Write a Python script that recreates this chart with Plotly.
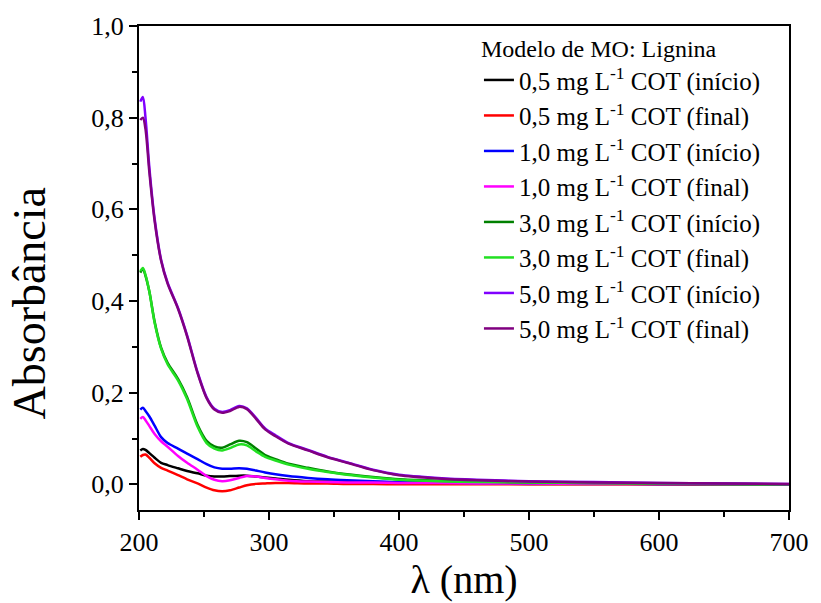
import plotly.graph_objects as go

# Wavelength grid (nm)
wl = [201, 203, 205, 208, 212, 217, 222, 230, 237, 245, 252, 258, 264, 270, 277,
      283, 290, 297, 305, 315, 330, 345, 360, 380, 400, 430, 460, 500, 550, 600, 650, 700]

# Absorbance spectra
a05_ini = [0.074, 0.077, 0.075, 0.068, 0.058, 0.047, 0.042, 0.035, 0.029, 0.024, 0.019, 0.017,
           0.017, 0.018, 0.019, 0.019, 0.017, 0.015, 0.013, 0.010, 0.007, 0.006, 0.005, 0.004,
           0.003, 0.002, 0.002, 0.001, 0.001, 0.000, 0.000, 0.000]
a05_fin = [0.060, 0.064, 0.065, 0.058, 0.046, 0.036, 0.030, 0.020, 0.011, 0.002, -0.007, -0.013,
           -0.015, -0.013, -0.007, -0.002, 0.001, 0.002, 0.003, 0.003, 0.002, 0.002, 0.001, 0.001,
           0.000, 0.000, 0.000, 0.000, 0.000, 0.000, 0.000, 0.000]
a10_ini = [0.163, 0.167, 0.160, 0.148, 0.128, 0.103, 0.090, 0.078, 0.067, 0.055, 0.044, 0.037,
           0.034, 0.034, 0.035, 0.034, 0.030, 0.026, 0.022, 0.018, 0.014, 0.011, 0.009, 0.007,
           0.005, 0.004, 0.003, 0.002, 0.002, 0.001, 0.001, 0.000]
a10_fin = [0.143, 0.147, 0.140, 0.127, 0.110, 0.094, 0.082, 0.062, 0.047, 0.032, 0.018, 0.010,
           0.007, 0.009, 0.014, 0.018, 0.017, 0.014, 0.011, 0.008, 0.006, 0.005, 0.004, 0.004,
           0.003, 0.003, 0.002, 0.002, 0.001, 0.001, 0.001, 0.000]
a30_ini = [0.462, 0.470, 0.455, 0.420, 0.355, 0.298, 0.265, 0.230, 0.190, 0.130, 0.095, 0.083,
           0.080, 0.087, 0.095, 0.092, 0.078, 0.064, 0.055, 0.045, 0.036, 0.028, 0.022, 0.016,
           0.011, 0.008, 0.006, 0.004, 0.003, 0.002, 0.001, 0.000]
a30_fin = [0.465, 0.472, 0.457, 0.420, 0.353, 0.296, 0.262, 0.227, 0.186, 0.126, 0.090, 0.078,
           0.074, 0.079, 0.087, 0.085, 0.072, 0.060, 0.052, 0.043, 0.034, 0.027, 0.021, 0.015,
           0.010, 0.007, 0.005, 0.004, 0.003, 0.002, 0.001, 0.000]
a50_ini = [0.835, 0.845, 0.800, 0.690, 0.580, 0.490, 0.440, 0.385, 0.325, 0.245, 0.190, 0.165,
           0.158, 0.162, 0.171, 0.166, 0.145, 0.122, 0.107, 0.090, 0.075, 0.060, 0.048, 0.032,
           0.021, 0.014, 0.010, 0.007, 0.005, 0.003, 0.002, 0.001]
a50_fin = [0.795, 0.800, 0.775, 0.680, 0.575, 0.488, 0.438, 0.383, 0.323, 0.243, 0.188, 0.163,
           0.156, 0.160, 0.169, 0.164, 0.143, 0.120, 0.105, 0.089, 0.074, 0.059, 0.047, 0.031,
           0.020, 0.013, 0.009, 0.006, 0.004, 0.003, 0.002, 0.001]

names = [
    "0,5 mg L<sup>-1</sup> COT (início)",
    "0,5 mg L<sup>-1</sup> COT (final)",
    "1,0 mg L<sup>-1</sup> COT (início)",
    "1,0 mg L<sup>-1</sup> COT (final)",
    "3,0 mg L<sup>-1</sup> COT (início)",
    "3,0 mg L<sup>-1</sup> COT (final)",
    "5,0 mg L<sup>-1</sup> COT (início)",
    "5,0 mg L<sup>-1</sup> COT (final)",
]
series = [a05_ini, a05_fin, a10_ini, a10_fin, a30_ini, a30_fin, a50_ini, a50_fin]
colors = ["#000000", "#ff0000", "#0000ff", "#ff00ff",
          "#008000", "#22e022", "#8000ff", "#800080"]

FONT = "Liberation Serif"

fig = go.Figure()
for i, (nm, ys, c) in enumerate(zip(names, series, colors)):
    fig.add_trace(go.Scatter(
        x=wl, y=ys, mode="lines", name=nm,
        line=dict(color=c, width=2.5, shape="spline", smoothing=0.8),
        legendgroup=f"g{i}",
    ))

axis_common = dict(
    showline=True, linecolor="black", linewidth=2, mirror=True,
    ticks="outside", ticklen=8, tickwidth=2, tickcolor="black",
    showgrid=False, zeroline=False,
    tickfont=dict(family=FONT, size=26, color="black"),
)

fig.update_layout(
    width=821, height=603,
    margin=dict(l=139, r=24, t=20, b=91),
    paper_bgcolor="white", plot_bgcolor="white",
    separators=", ",
    font=dict(family=FONT, color="black"),
    xaxis=dict(
        range=[200, 700], tickvals=[200, 300, 400, 500, 600, 700],
        minor=dict(tickvals=[250, 350, 450, 550, 650], ticks="outside",
                   ticklen=5, tickwidth=2, tickcolor="black"),
        title=dict(text="λ (nm)", font=dict(family=FONT, size=40), standoff=6),
        **axis_common,
    ),
    yaxis=dict(
        range=[-0.056, 1.0], tickvals=[0, 0.2, 0.4, 0.6, 0.8, 1.0], tickformat=".1f",
        minor=dict(tickvals=[0.1, 0.3, 0.5, 0.7, 0.9], ticks="outside",
                   ticklen=5, tickwidth=2, tickcolor="black"),
        **axis_common,
    ),
    annotations=[dict(
        text="Absorbância", textangle=-90, showarrow=False,
        xref="paper", yref="paper", x=-0.169, y=0.427,
        xanchor="center", yanchor="middle",
        font=dict(family=FONT, size=46, color="black"),
    )],
    legend=dict(
        x=0.523, y=1.0, xanchor="left", yanchor="top",
        bgcolor="rgba(0,0,0,0)", borderwidth=0,
        font=dict(family=FONT, size=25, color="black"),
        title=dict(text="Modelo de MO: Lignina", font=dict(family=FONT, size=24)),
        tracegroupgap=0, itemwidth=30,
    ),
    showlegend=True,
)

fig.write_html("out.html")
